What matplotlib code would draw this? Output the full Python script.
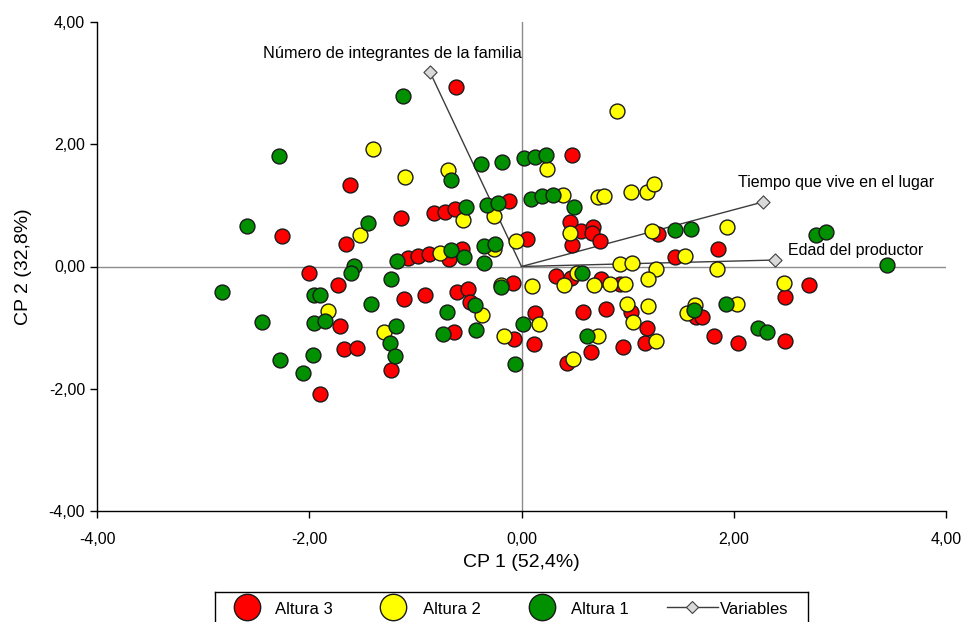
import matplotlib
matplotlib.use("Agg")
import matplotlib.pyplot as plt
from matplotlib.ticker import FuncFormatter

plt.rcParams['font.family'] = ['Liberation Sans', 'DejaVu Sans']

# ---- data ----
red_x = [-1.616, -2.257, -1.654, -2.003, -1.730, -1.711, -1.673, -1.550, -1.899, -0.617,
         -1.136, -0.825, -0.721, -0.627, -0.118, 0.052, -1.070, -0.976, -0.872, -0.561,
         -0.683, -1.107, -0.910, -0.608, -0.504, -0.485, -1.230, -0.636, -0.080, -0.071,
         0.118, 0.476, 0.457, 0.561, 0.674, 0.664, 0.740, 0.476, 1.287, 1.447,
         1.852, 0.325, 0.467, 0.749, 0.928, 0.127, 0.580, 0.796, 1.032, 1.183,
         0.655, 0.957, 1.164, 0.429, 2.710, 2.483, 1.645, 1.701, 1.814, 2.041, 2.483]
red_y = [1.334, 0.499, 0.368, -0.106, -0.303, -0.974, -1.350, -1.334, -2.087, 2.938,
         0.794, 0.876, 0.892, 0.941, 1.072, 0.450, 0.139, 0.172, 0.205, 0.286,
         0.123, -0.532, -0.466, -0.417, -0.368, -0.581, -1.694, -1.072, -0.270, -1.187,
         -1.268, 1.825, 0.728, 0.581, 0.646, 0.548, 0.417, 0.352, 0.532, 0.155,
         0.286, -0.155, -0.188, -0.205, -0.286, -0.761, -0.745, -0.696, -0.745, -1.007,
         -1.399, -1.318, -1.252, -1.579, -0.303, -0.499, -0.826, -0.826, -1.137, -1.252, -1.219]

yel_x = [-1.400, -1.522, -1.824, -1.098, -0.693, -0.551, -0.259, -0.052, -0.259, -0.768,
         -0.372, -1.296, -0.193, -0.165, 0.900, 0.240, 0.391, 0.721, 0.778, 1.032,
         1.183, 1.249, 0.457, 1.230, 1.540, 0.928, 1.041, 1.268, 0.523, 0.401,
         0.099, 0.683, 0.834, 0.975, 1.192, 0.165, 0.994, 1.051, 1.192, 0.721,
         1.268, 0.485, 1.560, 1.635, 1.937, 1.843, 2.474, 2.031]
yel_y = [1.923, 0.515, -0.728, 1.465, 1.579, 0.761, 0.827, 0.417, 0.286, 0.221,
         -0.794, -1.072, -0.303, -1.137, 2.545, 1.596, 1.170, 1.137, 1.154, 1.219,
         1.219, 1.350, 0.548, 0.581, 0.172, 0.041, 0.057, -0.041, -0.106, -0.303,
         -0.319, -0.303, -0.286, -0.286, -0.205, -0.941, -0.614, -0.908, -0.646, -1.137,
         -1.219, -1.514, -0.761, -0.630, 0.646, -0.041, -0.270, -0.614]

grn_x = [-2.285, -2.587, -1.447, -1.579, -1.607, -2.823, -1.956, -1.899, -1.418, -2.446,
         -1.956, -1.852, -2.276, -1.965, -2.059, -1.117, -0.664, -0.382, -0.184, 0.024,
         0.127, 0.231, -0.523, -0.325, -0.221, -0.353, -0.250, -1.173, -0.664, -0.542,
         -0.353, -1.230, -0.438, -0.702, -1.183, -1.239, -1.192, -0.740, -0.429, -0.193,
         0.014, -0.061, 0.090, 0.193, 0.297, 0.495, 1.447, 1.598, 0.570, 0.617,
         2.776, 2.870, 3.444, 1.626, 1.927, 2.229, 2.314]
grn_y = [1.809, 0.662, 0.712, 0.008, -0.106, -0.417, -0.466, -0.466, -0.614, -0.908,
         -0.925, -0.892, -1.530, -1.448, -1.743, 2.791, 1.416, 1.678, 1.710, 1.776,
         1.792, 1.825, 0.974, 1.007, 1.039, 0.336, 0.368, 0.090, 0.270, 0.155,
         0.057, -0.205, -0.630, -0.745, -0.974, -1.252, -1.465, -1.105, -1.039, -0.336,
         -0.941, -1.596, 1.105, 1.154, 1.170, 0.974, 0.597, 0.614, -0.106, -1.137,
         0.516, 0.565, 0.025, -0.712, -0.614, -1.007, -1.072]

var_names = ["Número de integrantes de la familia", "Tiempo que vive en el lugar", "Edad del productor"]
var_x = [-0.862, 2.276, 2.389]
var_y = [3.180, 1.056, 0.106]

ticks = [-4, -2, 0, 2, 4]
legend_labels = ["Altura 3", "Altura 2", "Altura 1", "Variables"]

RED, YEL, GRN = "#ff0000", "#ffff00", "#009000"

fig = plt.figure(figsize=(9.66, 6.22), dpi=100)
W, H = 966, 622
ax = fig.add_axes([97 / W, 1 - 511 / H, (946 - 97) / W, (511 - 22) / H])

ax.axhline(0, color="#8c8c8c", lw=1, zorder=1)
ax.axvline(0, color="#8c8c8c", lw=1, zorder=1)

for vx, vy in zip(var_x, var_y):
    ax.plot([0, vx], [0, vy], color="#3c3c3c", lw=1, zorder=2)
ax.scatter(var_x, var_y, marker="D", s=45, facecolor="#d9d9d9", edgecolor="#404040",
           linewidths=0.8, zorder=5)

for xs, ys, c in [(red_x, red_y, RED), (yel_x, yel_y, YEL), (grn_x, grn_y, GRN)]:
    ax.scatter(xs, ys, s=115, facecolor=c, edgecolor="#1a1a1a", linewidths=1.0, zorder=3)

# variable labels
ax.text(-1.22, 3.49, var_names[0], fontsize=11.8, ha="center", va="center", zorder=6)
ax.text(2.04, 1.38, var_names[1], fontsize=11.5, ha="left", va="center", zorder=6)
ax.text(2.51, 0.255, var_names[2], fontsize=11.5, ha="left", va="center", zorder=6)

ax.set_xlim(-4, 4)
ax.set_ylim(-4, 4)
ax.set_xticks(ticks)
ax.set_yticks(ticks)
fmt = FuncFormatter(lambda v, p: f"{v:.2f}".replace(".", ","))
ax.xaxis.set_major_formatter(fmt)
ax.yaxis.set_major_formatter(fmt)
ax.tick_params(direction="out", length=5, width=1, labelsize=11.5, colors="black")
ax.tick_params(axis="x", pad=10)
for s in ["top", "right"]:
    ax.spines[s].set_visible(False)
for s in ["left", "bottom"]:
    ax.spines[s].set_color("black")
    ax.spines[s].set_linewidth(1)
ax.set_xlabel("CP 1 (52,4%)", fontsize=14, labelpad=5)
ax.set_ylabel("CP 2 (32,8%)", fontsize=14, labelpad=12)

# legend drawn as a boxed panel (pixel coordinates inside)
lx0, lx1, ly0, ly1 = 215, 808, 592, 636
lax = fig.add_axes([lx0 / W, 1 - ly1 / H, (lx1 - lx0) / W, (ly1 - ly0) / H])
lax.set_xlim(lx0, lx1)
lax.set_ylim(ly1, ly0)
lax.set_xticks([])
lax.set_yticks([])
for s in lax.spines.values():
    s.set_color("black")
    s.set_linewidth(1)
cy = 607
for cx, tx, c, lab in [(247, 275, RED, legend_labels[0]), (393, 423, YEL, legend_labels[1]),
                       (542, 571, GRN, legend_labels[2])]:
    lax.plot([cx], [cy], marker="o", markersize=19, markerfacecolor=c,
             markeredgecolor="#1a1a1a", markeredgewidth=1.0, linestyle="none")
    lax.text(tx, 609, lab, fontsize=12, ha="left", va="center")
lax.plot([667, 718], [607, 607], color="#3c3c3c", lw=1)
lax.plot([692], [607], marker="D", markersize=6.5, markerfacecolor="#d9d9d9",
         markeredgecolor="#404040", markeredgewidth=0.8)
lax.text(720, 609, legend_labels[3], fontsize=12, ha="left", va="center")

fig.savefig("out.png", dpi=100)
